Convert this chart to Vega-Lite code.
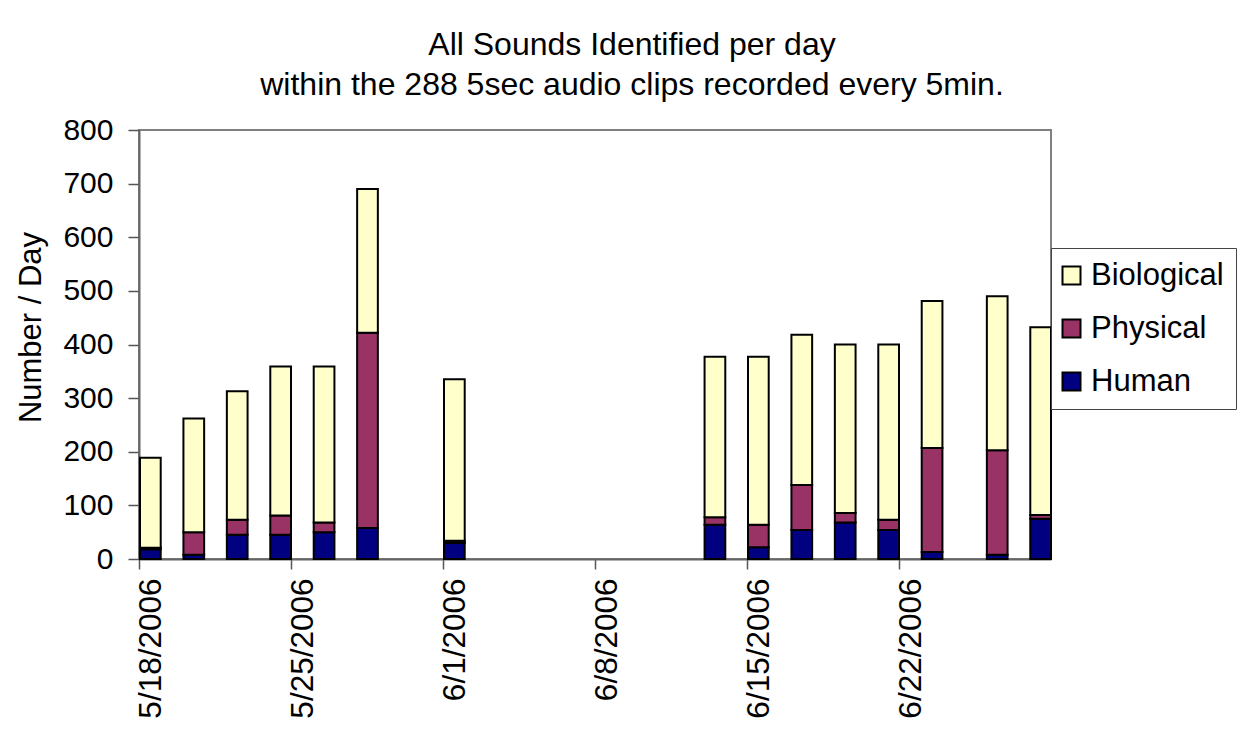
{
  "$schema": "https://vega.github.io/schema/vega-lite/v6.json",
  "width": 912,
  "height": 429,
  "autosize": {"type": "none"},
  "padding": {"left": 139, "top": 130, "right": 205, "bottom": 187},
  "background": "white",
  "title": {
    "text": ["All Sounds Identified per day", "within the 288 5sec audio clips recorded every 5min."],
    "fontSize": 32,
    "font": "Liberation Sans",
    "fontWeight": "normal",
    "lineHeight": 40,
    "offset": 13,
    "dx": 37,
    "anchor": "middle",
    "color": "black"
  },
  "data": {
    "values": [
      {"date": "2006-05-18", "type": "Human", "count": 18},
      {"date": "2006-05-18", "type": "Physical", "count": 3},
      {"date": "2006-05-18", "type": "Biological", "count": 168},
      {"date": "2006-05-20", "type": "Human", "count": 8},
      {"date": "2006-05-20", "type": "Physical", "count": 42},
      {"date": "2006-05-20", "type": "Biological", "count": 212},
      {"date": "2006-05-22", "type": "Human", "count": 45},
      {"date": "2006-05-22", "type": "Physical", "count": 28},
      {"date": "2006-05-22", "type": "Biological", "count": 240},
      {"date": "2006-05-24", "type": "Human", "count": 45},
      {"date": "2006-05-24", "type": "Physical", "count": 36},
      {"date": "2006-05-24", "type": "Biological", "count": 278},
      {"date": "2006-05-26", "type": "Human", "count": 50},
      {"date": "2006-05-26", "type": "Physical", "count": 18},
      {"date": "2006-05-26", "type": "Biological", "count": 291},
      {"date": "2006-05-28", "type": "Human", "count": 58},
      {"date": "2006-05-28", "type": "Physical", "count": 364},
      {"date": "2006-05-28", "type": "Biological", "count": 268},
      {"date": "2006-06-01", "type": "Human", "count": 30},
      {"date": "2006-06-01", "type": "Physical", "count": 4},
      {"date": "2006-06-01", "type": "Biological", "count": 301},
      {"date": "2006-06-13", "type": "Human", "count": 64},
      {"date": "2006-06-13", "type": "Physical", "count": 14},
      {"date": "2006-06-13", "type": "Biological", "count": 299},
      {"date": "2006-06-15", "type": "Human", "count": 22},
      {"date": "2006-06-15", "type": "Physical", "count": 42},
      {"date": "2006-06-15", "type": "Biological", "count": 313},
      {"date": "2006-06-17", "type": "Human", "count": 54},
      {"date": "2006-06-17", "type": "Physical", "count": 84},
      {"date": "2006-06-17", "type": "Biological", "count": 280},
      {"date": "2006-06-19", "type": "Human", "count": 68},
      {"date": "2006-06-19", "type": "Physical", "count": 18},
      {"date": "2006-06-19", "type": "Biological", "count": 314},
      {"date": "2006-06-21", "type": "Human", "count": 54},
      {"date": "2006-06-21", "type": "Physical", "count": 19},
      {"date": "2006-06-21", "type": "Biological", "count": 327},
      {"date": "2006-06-23", "type": "Human", "count": 13},
      {"date": "2006-06-23", "type": "Physical", "count": 194},
      {"date": "2006-06-23", "type": "Biological", "count": 274},
      {"date": "2006-06-26", "type": "Human", "count": 8},
      {"date": "2006-06-26", "type": "Physical", "count": 195},
      {"date": "2006-06-26", "type": "Biological", "count": 287},
      {"date": "2006-06-28", "type": "Human", "count": 75},
      {"date": "2006-06-28", "type": "Physical", "count": 7},
      {"date": "2006-06-28", "type": "Biological", "count": 350}
    ]
  },
  "transform": [
    {"calculate": "indexof(['Human', 'Physical', 'Biological'], datum.type)", "as": "stackOrder"}
  ],
  "mark": {"type": "bar", "stroke": "black", "strokeWidth": 2, "timeUnitBandSize": 0.83},
  "encoding": {
    "x": {
      "field": "date",
      "type": "temporal",
      "timeUnit": "utcyearmonthdate",
      "scale": {
        "type": "utc",
        "domain": [
          {"year": 2006, "month": 5, "date": 18, "utc": true},
          {"year": 2006, "month": 6, "date": 29, "utc": true}
        ]
      },
      "axis": {
        "values": [
          {"year": 2006, "month": 5, "date": 18, "utc": true},
          {"year": 2006, "month": 5, "date": 25, "utc": true},
          {"year": 2006, "month": 6, "date": 1, "utc": true},
          {"year": 2006, "month": 6, "date": 8, "utc": true},
          {"year": 2006, "month": 6, "date": 15, "utc": true},
          {"year": 2006, "month": 6, "date": 22, "utc": true}
        ],
        "format": "%-m/%-d/%Y",
        "labelAngle": 270,
        "labelAlign": "right",
        "labelBaseline": "middle",
        "labelFontSize": 31.5,
        "labelFont": "Liberation Sans",
        "labelColor": "black",
        "labelPadding": 9,
        "labelOffset": 12,
        "labelLimit": 400,
        "labelFlush": false,
        "labelOverlap": false,
        "tickSize": 10,
        "tickColor": "#555555",
        "tickWidth": 1.5,
        "domainColor": "#666666",
        "domainWidth": 2,
        "grid": false,
        "title": null
      }
    },
    "y": {
      "field": "count",
      "type": "quantitative",
      "stack": "zero",
      "scale": {"domain": [0, 800], "nice": false},
      "axis": {
        "values": [0, 100, 200, 300, 400, 500, 600, 700, 800],
        "labelFontSize": 30,
        "labelFont": "Liberation Sans",
        "labelColor": "black",
        "labelPadding": 15,
        "tickSize": 11,
        "tickColor": "#555555",
        "tickWidth": 1.5,
        "domainColor": "#666666",
        "domainWidth": 2,
        "grid": false,
        "title": "Number / Day",
        "titleFont": "Liberation Sans",
        "titleFontSize": 31,
        "titleFontWeight": "normal",
        "titleColor": "black",
        "titleX": -92,
        "titleY": 197
      }
    },
    "order": {"field": "stackOrder", "type": "quantitative", "sort": "ascending"},
    "color": {
      "field": "type",
      "type": "nominal",
      "scale": {
        "domain": ["Biological", "Physical", "Human"],
        "range": ["#FFFFCC", "#993366", "#000080"]
      },
      "legend": {
        "orient": "none",
        "legendX": 912,
        "legendY": 118,
        "title": null,
        "symbolType": "square",
        "symbolSize": 324,
        "symbolStrokeColor": "black",
        "symbolStrokeWidth": 2,
        "symbolOffset": -7,
        "labelFontSize": 31,
        "labelFont": "Liberation Sans",
        "labelColor": "black",
        "labelOffset": 4,
        "strokeColor": "#444444",
        "fillColor": "white",
        "padding": 12,
        "rowPadding": 21
      }
    }
  },
  "config": {"view": {"stroke": "#808080", "strokeWidth": 2}}
}
